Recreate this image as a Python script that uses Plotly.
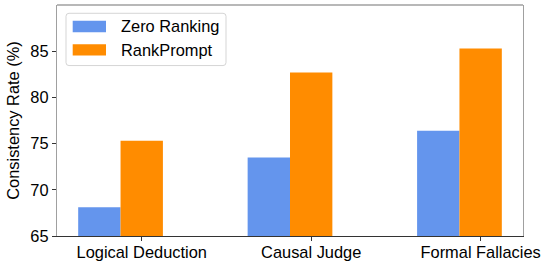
import plotly.graph_objects as go

categories = ["Logical Deduction", "Causal Judge", "Formal Fallacies"]
zero_ranking = [68.1, 73.5, 76.4]
rank_prompt = [75.3, 82.7, 85.3]
series_names = ["Zero Ranking", "RankPrompt"]
y_ticks = [65, 70, 75, 80, 85]

BLUE = "#6495ED"
ORANGE = "#FF8C00"
FONT = "Liberation Sans, Arial, sans-serif"
FS = 16.4
BAR_W = 0.25

W, H = 547, 262
L, R, T, B = 57, 523, 5, 236.5

def px(x):
    return (x - L) / (R - L)

def py(y):
    return (B - y) / (B - T)

fig = go.Figure()
# matplotlib-style: RankPrompt centred on the tick, Zero Ranking one bar-width to the left
fig.add_trace(go.Bar(x=categories, y=zero_ranking, name=series_names[0],
                     width=BAR_W, offset=-1.5 * BAR_W,
                     marker=dict(color=BLUE, line=dict(width=0))))
fig.add_trace(go.Bar(x=categories, y=rank_prompt, name=series_names[1],
                     width=BAR_W, offset=-0.5 * BAR_W,
                     marker=dict(color=ORANGE, line=dict(width=0))))

shapes = []
shapes.append(dict(type="line", xref="paper", yref="paper", x0=0, x1=1, y0=1, y1=1,
                   line=dict(color="#a0a0a0", width=1.3)))
x0, x1, y0, y1 = px(66), px(226), py(65.7), py(13.3)
rx = 3 / (R - L)
ry = 3 / (B - T)
path = (f"M {x0+rx},{y0} L {x1-rx},{y0} Q {x1},{y0} {x1},{y0+ry} "
        f"L {x1},{y1-ry} Q {x1},{y1} {x1-rx},{y1} L {x0+rx},{y1} "
        f"Q {x0},{y1} {x0},{y1-ry} L {x0},{y0+ry} Q {x0},{y0} {x0+rx},{y0} Z")
shapes.append(dict(type="path", xref="paper", yref="paper", path=path,
                   fillcolor="rgba(255,255,255,0.85)", line=dict(color="#d5d5d5", width=1)))
shapes.append(dict(type="rect", xref="paper", yref="paper",
                   x0=px(72.7), x1=px(106), y0=py(32.3), y1=py(20.7),
                   fillcolor=BLUE, line=dict(width=0)))
shapes.append(dict(type="rect", xref="paper", yref="paper",
                   x0=px(72.7), x1=px(106), y0=py(55.7), y1=py(44.3),
                   fillcolor=ORANGE, line=dict(width=0)))

annotations = [
    dict(text=series_names[0], xref="paper", yref="paper", x=px(119), y=py(26.5),
         xanchor="left", yanchor="middle", showarrow=False,
         font=dict(family=FONT, size=FS, color="black")),
    dict(text=series_names[1], xref="paper", yref="paper", x=px(119), y=py(50),
         xanchor="left", yanchor="middle", showarrow=False,
         font=dict(family=FONT, size=FS, color="black")),
]

fig.update_layout(
    width=W, height=H,
    margin=dict(l=L, r=W - R, t=T, b=H - B, autoexpand=False),
    paper_bgcolor="white", plot_bgcolor="white",
    barmode="overlay",
    showlegend=False,
    font=dict(family=FONT, size=FS, color="black"),
    shapes=shapes, annotations=annotations,
    xaxis=dict(range=[-0.5, 2.25], showgrid=False, zeroline=False, automargin=False,
               showline=True, linecolor="#333333", linewidth=1.3,
               ticks="outside", ticklen=4, tickwidth=1, tickcolor="#333333",
               ticklabelstandoff=-3,
               tickfont=dict(family=FONT, size=FS, color="black")),
    yaxis=dict(range=[65, 90], tickvals=y_ticks, showgrid=False, zeroline=False, automargin=False,
               showline=True, linecolor="#a0a0a0", linewidth=1.3, mirror=True,
               ticks="outside", ticklen=4, tickwidth=1, tickcolor="#333333",
               tickfont=dict(family=FONT, size=FS, color="black"),
               title=dict(text="Consistency Rate (%)", standoff=6,
                          font=dict(family=FONT, size=FS, color="black"))),
)

fig.write_html("out.html",
               config={"displayModeBar": False},
               post_script="document.body.style.margin='0';document.body.style.padding='0';")
